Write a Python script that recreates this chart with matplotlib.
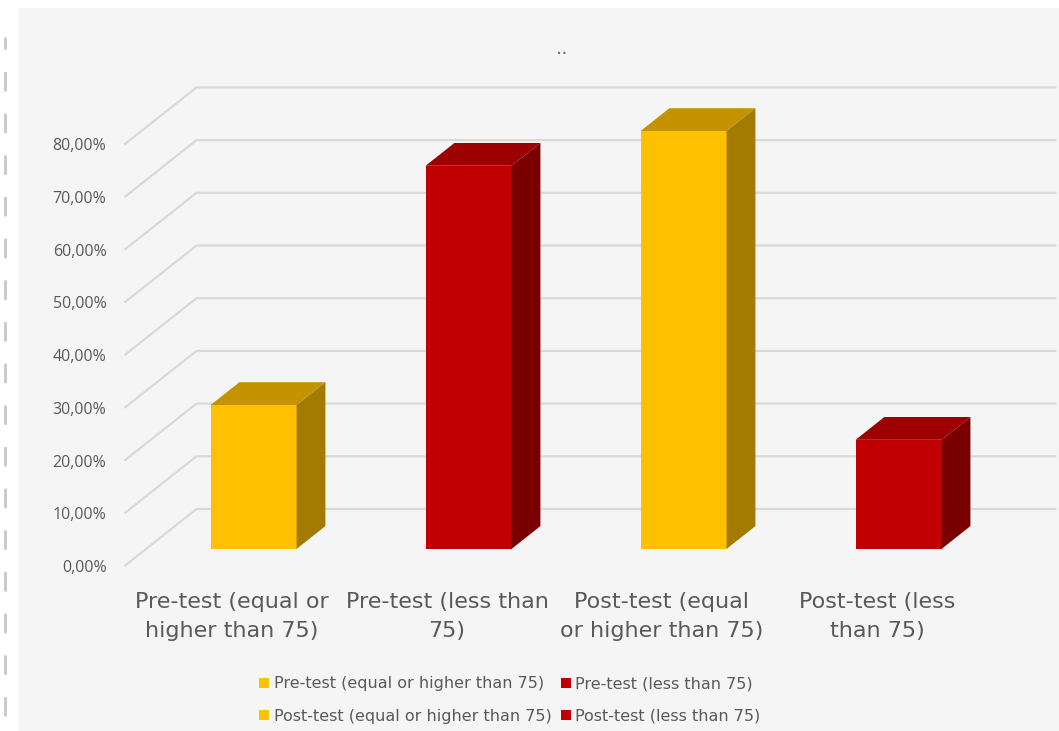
import matplotlib
matplotlib.use("Agg")
import matplotlib.pyplot as plt
from matplotlib.patches import Polygon, Rectangle, Patch
from matplotlib.lines import Line2D

# ---- data ----
categories = ["Pre-test (equal or\nhigher than 75)", "Pre-test (less than\n75)",
              "Post-test (equal\nor higher than 75)", "Post-test (less\nthan 75)"]
series_names = ["Pre-test (equal or higher than 75)", "Pre-test (less than 75)",
                "Post-test (equal or higher than 75)", "Post-test (less than 75)"]
values = [27.3, 72.7, 79.3, 20.7]
yticks = [0, 10, 20, 30, 40, 50, 60, 70, 80]
ytick_labels = ["0,00%", "10,00%", "20,00%", "30,00%", "40,00%", "50,00%", "60,00%", "70,00%", "80,00%"]
title = ".."

# ---- style ----
front_cols = ["#FFC000", "#C00000", "#FFC000", "#C00000"]
top_cols = ["#C69300", "#9C0000", "#C69300", "#9C0000"]
side_cols = ["#A37B00", "#7A0000", "#A37B00", "#7A0000"]
grid_col = "#D9D9D9"
text_col = "#595959"

W, H = 1059, 731
fig = plt.figure(figsize=(W / 100, H / 100), dpi=100)
fig.patch.set_facecolor("white")
fig.add_artist(Rectangle((18 / W, 0), 1 - 18 / W, 1 - 8 / H, transform=fig.transFigure,
                         facecolor="#F5F5F5", edgecolor="none", zorder=0))
fig.add_artist(Line2D([5 / W, 5 / W], [0.02, 0.95], transform=fig.transFigure,
                      color="#C8C8C8", lw=2, ls=(0, (7, 8)), zorder=1))

# axes: x data -0.5..3.5 at floor front, y 0..80
ax_left, ax_right = 124.5, 984.5
y0_px, y80_px = 566, 566 - 80 * 5.27
ax = fig.add_axes([ax_left / W, (H - y0_px) / H, (ax_right - ax_left) / W, (y0_px - y80_px) / H])
ax.set_xlim(-0.5, 3.5)
ax.set_ylim(0, 80)
ax.patch.set_alpha(0)
for s in ax.spines.values():
    s.set_visible(False)

DX = 72 / 215.0   # depth offset in x data units (full depth)
DY = 57 / 5.27    # depth offset in y data units (full depth)
d1, d2 = 0.3, 0.7
bw = 86 / 215.0

# gridlines (side wall diagonal + back wall)
for v in yticks:
    ax.plot([-0.5, -0.5 + DX, 3.5 + DX], [v, v + DY, v + DY], color=grid_col, lw=1.6,
            clip_on=False, zorder=1, solid_capstyle="butt")

xs = list(range(len(values)))
bx = [x + d1 * DX for x in xs]
bars = ax.bar(bx, values, width=bw, bottom=d1 * DY, color=front_cols, zorder=3,
              edgecolor="none")
ddx = (d2 - d1) * DX
ddy = (d2 - d1) * DY
for b, tc, sc in zip(bars, top_cols, side_cols):
    b.set_clip_on(False)
    xl = b.get_x()
    xr = xl + b.get_width()
    yb = b.get_y()
    yt = yb + b.get_height()
    ax.add_patch(Polygon([(xl, yt), (xr, yt), (xr + ddx, yt + ddy), (xl + ddx, yt + ddy)],
                         closed=True, facecolor=tc, edgecolor="none", zorder=3, clip_on=False))
    ax.add_patch(Polygon([(xr, yb), (xr + ddx, yb + ddy), (xr + ddx, yt + ddy), (xr, yt)],
                         closed=True, facecolor=sc, edgecolor="none", zorder=3, clip_on=False))

ax.set_yticks(yticks)
ax.set_yticklabels(ytick_labels, fontsize=11.5, color=text_col, family="Open Sans")
ax.tick_params(axis="y", length=0, pad=13)
ax.set_xticks(xs)
ax.set_xticklabels(categories, fontsize=16, color=text_col, family="Liberation Sans Narrow",
                   linespacing=1.55)
ax.tick_params(axis="x", length=0, pad=19)

fig.text(562 / W, 1 - 48 / H, title, ha="center", va="center", fontsize=14, color="#707070")

handles = [Patch(facecolor=front_cols[i], edgecolor="none") for i in [0, 2, 1, 3]]
labels = [series_names[i] for i in [0, 2, 1, 3]]
leg = fig.legend(handles, labels, ncol=2, loc="center", bbox_to_anchor=(510 / W, 1 - 700 / H),
                 frameon=False, handlelength=0.6, handleheight=0.6,
                 handletextpad=0.3, columnspacing=0.6, labelspacing=1.1,
                 prop={"family": "Liberation Sans Narrow", "size": 11.5})
for t in leg.get_texts():
    t.set_color(text_col)

fig.savefig("out.png", dpi=100, facecolor=fig.get_facecolor())
